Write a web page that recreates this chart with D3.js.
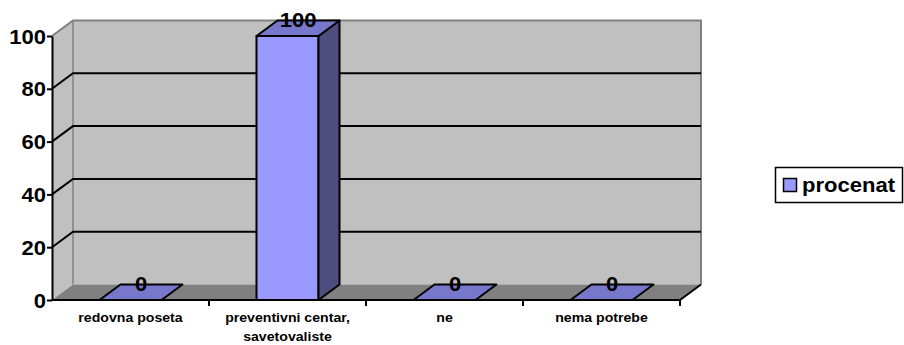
<!DOCTYPE html>
<html>
<head>
<meta charset="utf-8">
<script src="https://d3js.org/d3.v7.min.js"></script>
<style>
  body { margin: 0; background: #fff; }
</style>
</head>
<body>
<div id="chart"></div>
<script>
// data
const categories = ["redovna poseta", "preventivni centar, savetovaliste", "ne", "nema potrebe"];
const values = [0, 100, 0, 0];
const seriesName = "procenat";
const yTicks = [0, 20, 40, 60, 80, 100];

const width = 904, height = 345;
const sx = 1.13;           // the original image is stretched sideways a bit
const dx = 21, dy = -15.5; // 3d depth offset
const font = "'Liberation Sans', Arial, sans-serif";

const x = d3.scaleBand().domain(categories).range([52, 680]).padding(0);
const y = d3.scaleLinear().domain([0, 100]).range([300, 36]);
const barW = x.bandwidth() * 0.395;

const svg = d3.select("#chart").append("svg")
  .attr("width", width).attr("height", height);

const x0 = x.range()[0], x1 = x.range()[1];
const pts = a => a.map(p => p.join(",")).join(" ");

function styleText(sel, size) {
  sel.style("font-family", font).style("font-weight", "700")
    .style("font-size", size + "px").style("fill", "#000");
}

// side wall + back wall
svg.append("polygon")
  .attr("points", pts([[x0, y(0)], [x0, y(100)], [x0 + dx, y(100) + dy], [x0 + dx, y(0) + dy]]))
  .attr("fill", "#c0c0c0");
svg.append("polygon")
  .attr("points", pts([[x0 + dx, y(100) + dy], [x1 + dx, y(100) + dy], [x1 + dx, y(0) + dy], [x0 + dx, y(0) + dy]]))
  .attr("fill", "#c0c0c0");
// floor
svg.append("polygon")
  .attr("points", pts([[x0, y(0)], [x1, y(0)], [x1 + dx, y(0) + dy], [x0 + dx, y(0) + dy]]))
  .attr("fill", "#808080");

// wall borders
svg.append("polyline")
  .attr("points", pts([[x0, y(100)], [x0 + dx, y(100) + dy], [x1 + dx, y(100) + dy], [x1 + dx, y(0) + dy]]))
  .attr("fill", "none").attr("stroke", "#808080").attr("stroke-width", 2);
svg.append("line")
  .attr("x1", x0 + dx).attr("x2", x0 + dx).attr("y1", y(100) + dy).attr("y2", y(0) + dy)
  .attr("stroke", "#808080").attr("stroke-width", 1.5);

// gridlines
const grid = yTicks.filter(t => t > 0 && t < 100);
svg.append("g").selectAll("polyline").data(grid).join("polyline")
  .attr("points", t => pts([[x0, y(t)], [x0 + dx, y(t) + dy], [x1 + dx, y(t) + dy]]))
  .attr("fill", "none").attr("stroke", "#000").attr("stroke-width", 2);

// floor right edge
svg.append("line")
  .attr("x1", x1).attr("y1", y(0)).attr("x2", x1 + dx).attr("y2", y(0) + dy)
  .attr("stroke", "#000").attr("stroke-width", 2);

// bars
const bars = svg.append("g").selectAll("g").data(values).join("g");
bars.each(function (v, i) {
  const g = d3.select(this);
  const cx = x(categories[i]) + x.bandwidth() / 2;
  const l = cx - barW / 2, r = cx + barW / 2, t = y(v), b = y(0);
  if (v > 0) {
    g.append("polygon").attr("points", pts([[l, t], [r, t], [r, b], [l, b]]))
      .attr("fill", "#9999ff");
    g.append("polygon").attr("points", pts([[r, t], [r + dx, t + dy], [r + dx, b + dy], [r, b]]))
      .attr("fill", "#4d4d80");
  }
  g.append("polygon").attr("points", pts([[l, t], [r, t], [r + dx, t + dy], [l + dx, t + dy]]))
    .attr("fill", "#7777cc");
  g.selectAll("polygon").attr("stroke", "#000").attr("stroke-width", 2).attr("stroke-linejoin", "round");
});

// y axis
const yAxis = svg.append("g").attr("transform", `translate(${x0},0)`)
  .call(d3.axisLeft(y).tickValues(yTicks).tickSize(5).tickSizeOuter(0).tickPadding(0));
yAxis.select(".domain").attr("stroke", "#000").attr("stroke-width", 2);
yAxis.selectAll(".tick line").attr("stroke", "#000").attr("stroke-width", 2);
yAxis.selectAll(".tick text")
  .attr("x", -6 / sx).attr("dy", "0.36em")
  .attr("transform", `scale(${sx},1)`)
  .call(styleText, 19.5);

// x axis line + boundary ticks
svg.append("line").attr("x1", x0).attr("x2", x1).attr("y1", y(0)).attr("y2", y(0))
  .attr("stroke", "#000").attr("stroke-width", 2);
const bounds = categories.map(c => x(c)).concat([x1]).slice(1);
svg.append("g").selectAll("line").data(bounds).join("line")
  .attr("x1", d => d).attr("x2", d => d).attr("y1", y(0)).attr("y2", y(0) + 6)
  .attr("stroke", "#000").attr("stroke-width", 2);

// category labels (wrapped)
const catG = svg.append("g").selectAll("g").data(categories).join("g")
  .attr("transform", d => `translate(${x(d) + x.bandwidth() / 2},322) scale(${sx},1)`);
catG.each(function (d) {
  const text = d3.select(this).append("text").attr("text-anchor", "middle").call(styleText, 12.5);
  const words = d.split(" ");
  let line = [], lineNo = 0;
  let tspan = text.append("tspan").attr("x", 0).attr("y", 0);
  words.forEach(w => {
    line.push(w);
    tspan.text(line.join(" "));
    if (tspan.node().getComputedTextLength() * sx > x.bandwidth() * 0.95 && line.length > 1) {
      line.pop();
      tspan.text(line.join(" "));
      line = [w];
      lineNo++;
      tspan = text.append("tspan").attr("x", 0).attr("y", lineNo * 19).text(w);
    }
  });
});

// data labels
svg.append("g").selectAll("g").data(values).join("g")
  .attr("transform", (v, i) => `translate(${x(categories[i]) + x.bandwidth() / 2 + dx / 2},${y(v) + dy / 2 - 8}) scale(${sx},1)`)
  .append("text").attr("text-anchor", "middle").attr("dy", "0.36em")
  .call(styleText, 19.5).text(v => v);

// legend
const leg = svg.append("g");
leg.append("rect").attr("x", 775.5).attr("y", 167.5).attr("width", 127).attr("height", 35)
  .attr("fill", "#fff").attr("stroke", "#000").attr("stroke-width", 1.5);
leg.append("rect").attr("x", 783.5).attr("y", 178.5).attr("width", 13).attr("height", 13)
  .attr("fill", "#9999ff").attr("stroke", "#000").attr("stroke-width", 1.5);
leg.append("g").attr("transform", `translate(802,185) scale(${sx},1)`)
  .append("text").attr("dy", "0.36em").call(styleText, 19.5).text(seriesName);
</script>
</body>
</html>
